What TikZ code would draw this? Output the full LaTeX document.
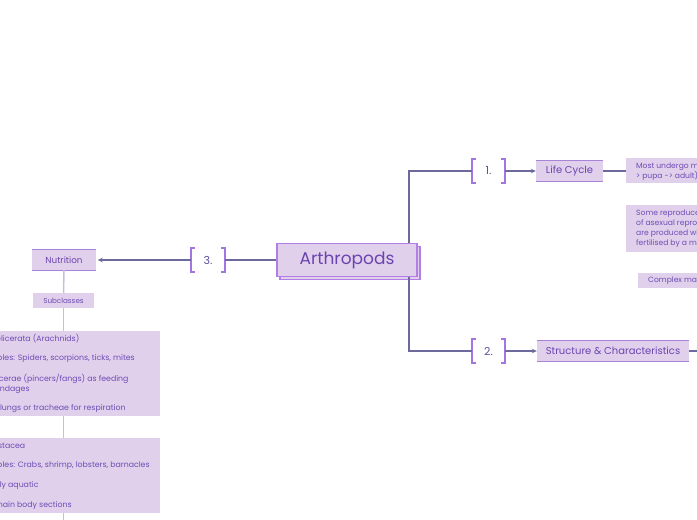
\documentclass[tikz,border=0pt]{standalone}
\usepackage{fontspec}
\setmainfont{Poppins}
\usetikzlibrary{arrows.meta}
\definecolor{boxfill}{HTML}{E1D0EC}
\definecolor{mainborder}{HTML}{B07EE4}
\definecolor{edgeline}{HTML}{A884D8}
\definecolor{headc}{HTML}{6A44AE}
\definecolor{smallc}{HTML}{6E4CB4}
\definecolor{linec}{HTML}{6C6A9C}
\definecolor{lightline}{HTML}{C6BEDC}
\definecolor{brkc}{HTML}{A474E0}
\definecolor{numc}{HTML}{5A4F9A}
\begin{document}
\begin{tikzpicture}[x=1pt,y=-1pt,
  mainbox/.style={draw=mainborder, line width=1.5pt, fill=boxfill, text=headc, inner sep=0pt,
    minimum width=140pt, minimum height=33pt, font=\fontsize{17}{20}\selectfont},
  hbox/.style={fill=boxfill, text=headc, inner sep=0pt, minimum height=20pt, font=\fontsize{10}{12}\selectfont},
  hline/.style={draw=edgeline, line width=1.2pt},
  sbox/.style={fill=boxfill, inner sep=0pt},
  stext/.style={text=smallc, inner sep=0pt, anchor=west, align=left, font=\fontsize{7.8}{10}\selectfont},
  rtext/.style={text=smallc, inner sep=0pt, anchor=west, align=left, font=\fontsize{7.6}{10}\selectfont},
  brnode/.style={inner sep=0pt, minimum width=33pt, minimum height=24pt, text=numc, font=\fontsize{11}{13}\selectfont},
  brk/.style={draw=brkc, line width=1.8pt},
  conn/.style={draw=linec, line width=1.2pt},
  lconn/.style={draw=lightline, line width=1.5pt},
  arr/.style={conn, -{Stealth[length=5pt,width=4.5pt]}}
]
\useasboundingbox (0,0) rectangle (697,520);
\clip (0,0) rectangle (697,520);

% central node with shadow copy
\node[mainbox] (arthsh) at (350,263) {};
\node[mainbox] (arth) at (347,260) {Arthropods};

% vertical spine
\coordinate (vx) at (409,0);

% brackets
\node[brnode] (br1) at (488.5,171) {1.};
\node[brnode] (br2) at (488.5,351) {2.};
\node[brnode] (br3) at (208,260) {3.};
\foreach \b in {br1,br2,br3}{
  \draw[brk] ([xshift=4pt]\b.north west) -- (\b.north west) -- (\b.south west) -- ([xshift=4pt]\b.south west);
  \draw[brk] ([xshift=-4pt]\b.north east) -- (\b.north east) -- (\b.south east) -- ([xshift=-4pt]\b.south east);
}

% Life Cycle
\node[hbox, minimum width=67pt] (life) at (569.5,171) {Life Cycle};
\draw[hline] (life.north west) -- (life.north east) (life.south west) -- (life.south east);

% Structure
\node[hbox, minimum width=152pt] (struct) at (613,351) {Structure \& Characteristics};
\draw[hline] (struct.north west) -- (struct.north east);
\draw[hline] (struct.south west) -- (struct.south east);

% Nutrition
\node[hbox, minimum width=64pt, font=\fontsize{8.8}{10}\selectfont] (nut) at (64,260) {Nutrition};
\draw[hline] (nut.north west) -- (nut.north east) (nut.south west) -- (nut.south east);

% right info boxes
\node[sbox, anchor=north west, minimum width=100pt, minimum height=25pt] (most) at (626,158) {};
\node[rtext] (mostt) at (636,171) {Most undergo metamorphosis (egg -> larva -\\> pupa -> adult)};
\node[sbox, anchor=north west, minimum width=100pt, minimum height=47pt] (some) at (626,205) {};
\node[rtext] (somet) at (636,229) {Some reproduce by parthenogenesis, a form\\of asexual reproduction where offspring\\are produced without eggs being\\fertilised by a male};
\node[sbox, anchor=north west, minimum width=90pt, minimum height=15pt] (cplx) at (638,273) {};
\node[rtext] (cplxt) at (648,281) {Complex mating behaviours};

% left column
\node[sbox, minimum width=61pt, minimum height=15pt, text=smallc, font=\fontsize{7.2}{8}\selectfont] (sub) at (63.5,300.5) {Subclasses};
\node[sbox, anchor=north west, minimum width=200pt, minimum height=85pt] (bx1) at (-40,331) {};
\node[stext] (c1) at (-15,339) {Chelicerata (Arachnids)};
\node[stext] (c2) at (-24,358.5) {Examples: Spiders, scorpions, ticks, mites};
\node[stext] (c3) at (-21,384) {Chelicerae (pincers/fangs) as feeding\\appendages};
\node[stext] (c4) at (-21,409) {Book lungs or tracheae for respiration};
\node[sbox, anchor=north west, minimum width=200pt, minimum height=75pt] (bx2) at (-40,438) {};
\node[stext] (r1) at (-16,446) {Crustacea};
\node[stext] (r2) at (-24,466) {Examples: Crabs, shrimp, lobsters, barnacles};
\node[stext] (r3) at (-19,486) {Mostly aquatic};
\node[stext] (r4) at (-23,506) {Two main body sections};

% connectors
\draw[conn] (arth.north -| vx) |- (br1.west);
\draw[conn] (arth.south -| vx) |- (br2.west);
\draw[arr] (br1.east) -- (life.west);
\draw[arr] (br2.east) -- (struct.west);
\draw[conn] (life.east) -- (most.west |- life.east);
\coordinate (sright) at (700,351);
\draw[conn] (struct.east) -- (sright);
\draw[conn] (arth.west) -- (br3.east);
\draw[arr, shorten >=1.5pt] (br3.west) -- (nut.east);
\draw[lconn] (nut.south) -- (sub.north);
\draw[lconn] (sub.south) -- (sub.south |- bx1.north);
\draw[lconn] (sub.south |- bx1.south) -- (sub.south |- bx2.north);
\coordinate (bend) at (63.5,525);
\draw[lconn] (sub.south |- bx2.south) -- (bend);
\end{tikzpicture}
\end{document}
